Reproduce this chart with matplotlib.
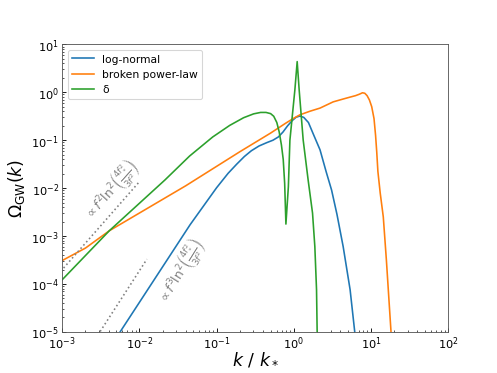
import numpy as np
import matplotlib
matplotlib.use('Agg')
import matplotlib.pyplot as plt

# log-normal peak
k_ln = [5.62e-3, 0.0453, 0.100, 0.141, 0.182, 0.229, 0.282, 0.355, 0.447, 0.537,
        0.631, 0.724, 0.832, 0.955, 1.072, 1.202, 1.349, 1.549, 1.778, 2.188,
        2.630, 3.090, 3.631, 4.365, 5.370, 6.166]
om_ln = [1e-5, 1.72e-3, 0.0102, 0.0204, 0.0316, 0.0457, 0.0603, 0.0759, 0.0891, 0.100,
         0.117, 0.148, 0.200, 0.257, 0.302, 0.320, 0.299, 0.234, 0.138, 0.0631,
         0.0219, 9.12e-3, 2.82e-3, 6.03e-4, 7.59e-5, 1e-5]

# broken power-law
k_bp = [1e-3, 2.0e-3, 4.07e-3, 0.0398, 0.200, 0.501, 0.794, 1.0, 1.202, 1.622,
        2.188, 3.236, 4.365, 5.370, 6.310, 7.079, 7.762, 8.318, 8.913, 9.550,
        10.23, 10.96, 11.48, 11.89, 12.30, 13.18, 14.45, 15.85, 17.38, 18.20]
om_bp = [3.09e-4, 5.62e-4, 1.29e-3, 0.0112, 0.0575, 0.141, 0.229, 0.288, 0.339, 0.403,
         0.468, 0.631, 0.724, 0.794, 0.851, 0.912, 0.977, 0.955, 0.851, 0.692,
         0.501, 0.282, 0.126, 0.0562, 0.0224, 7.94e-3, 2.51e-3, 3.16e-4, 3.16e-5, 1e-5]

# delta peak
k_dl = [1e-3, 4.07e-3, 0.0214, 0.0447, 0.0891, 0.148, 0.224, 0.302, 0.372, 0.437,
        0.501, 0.550, 0.603, 0.646, 0.692, 0.730, 0.762, 0.791, 0.851, 0.891,
        1.033, 1.107, 1.175, 1.324, 1.535, 1.750, 1.875, 1.972, 2.009]
om_dl = [1.23e-4, 1.29e-3, 0.0148, 0.0468, 0.117, 0.204, 0.295, 0.355, 0.380, 0.380,
         0.359, 0.316, 0.234, 0.151, 0.0794, 0.0398, 0.0126, 1.78e-3, 0.0107, 0.100,
         1.117, 4.37, 1.117, 0.101, 0.0148, 3.02e-3, 6.03e-4, 7.59e-5, 1e-5]

# guide lines
k_g2 = [1.04e-3, 9.9e-3]
om_g2 = [2.15e-4, 0.0134]
k_g3 = [3.1e-3, 1.25e-2]
om_g3 = [1.02e-5, 3.3e-4]

fig, ax = plt.subplots(figsize=(6.4, 4.8), dpi=77.8)

ax.plot(k_ln, om_ln, color='C0', lw=1.5, label='log-normal')
ax.plot(k_bp, om_bp, color='C1', lw=1.5, label='broken power-law')
ax.plot(k_dl, om_dl, color='C2', lw=1.5, label='δ')

ax.plot(k_g2, om_g2, ls=':', color='gray', lw=1.5)
ax.plot(k_g3, om_g3, ls=':', color='gray', lw=1.5)

ax.text(4.3e-3, 9.2e-3, r'$\propto f^2 \ln^2\!\left(\frac{4f_*^2}{3f^2}\right)$',
        rotation=48, color='gray', fontsize=11.5, ha='center', va='center')
ax.text(3.47e-2, 1.9e-4, r'$\propto f^3 \ln^2\!\left(\frac{4f_*^2}{3f^2}\right)$',
        rotation=58, color='gray', fontsize=11.5, ha='center', va='center')

ax.set_xscale('log')
ax.set_yscale('log')
ax.set_xlim(1e-3, 1e2)
ax.set_ylim(1e-5, 1e1)
ax.set_xlabel(r'$k\ /\ k_*$', fontsize=16, labelpad=-2)
ax.set_ylabel(r'$\Omega_{\rm GW}(k)$', fontsize=16)
ax.tick_params(which='both', direction='in', labelsize=10.5, pad=3)
for s in ax.spines.values():
    s.set_edgecolor('#555555')
ax.legend(loc='upper left', fontsize=10)

plt.savefig('out.png', dpi=77.8)
